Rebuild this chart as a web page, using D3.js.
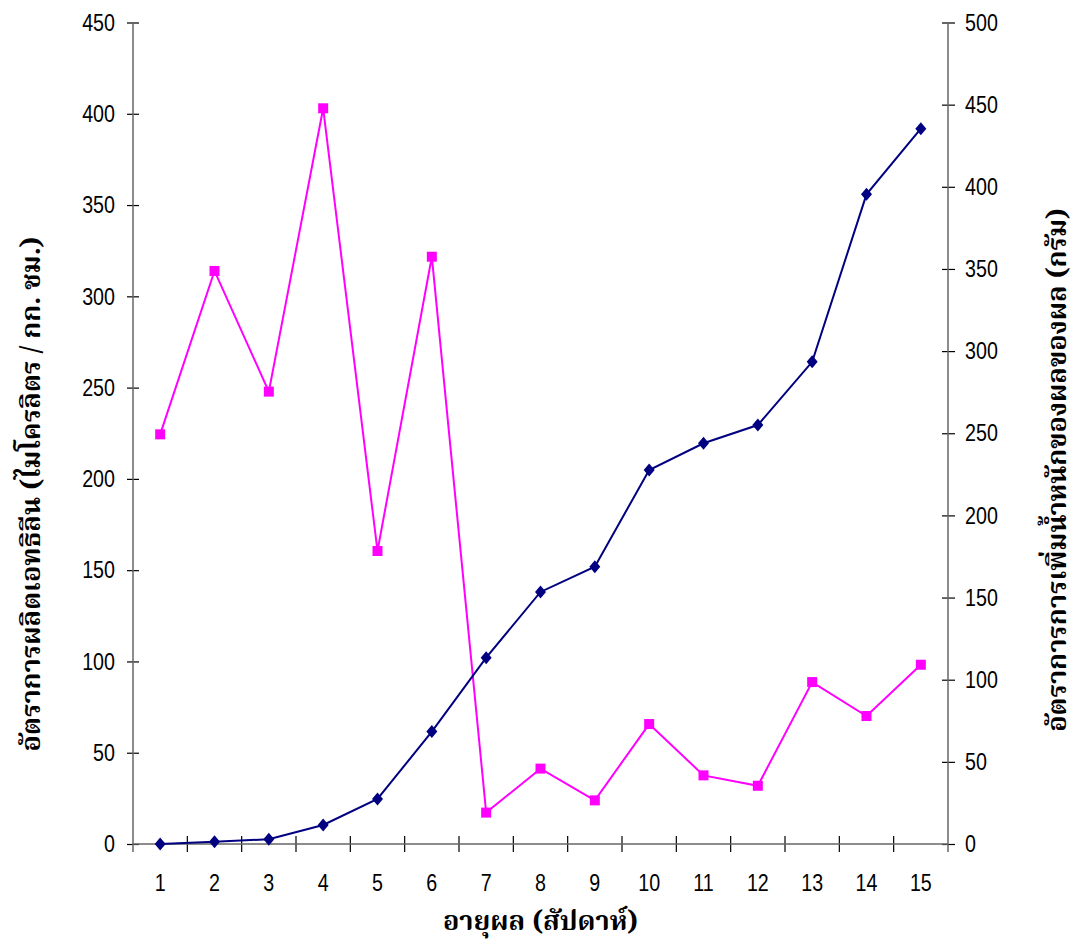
<!DOCTYPE html>
<html><head><meta charset="utf-8">
<script src="https://cdn.jsdelivr.net/npm/d3@7"></script>
<style>body{margin:0;background:#fff}svg{display:block}</style>
</head><body>
<svg id="c" width="1079" height="947"></svg>
<script>
const weeks = [1,2,3,4,5,6,7,8,9,10,11,12,13,14,15];
const ethylene = [224.4,313.9,247.8,403.0,160.5,321.7,17.2,41.3,23.9,65.7,37.6,31.9,88.7,70.1,98.2];
const weightGain = [0,1.4,2.9,11.6,27.4,68.4,113.4,153.4,168.8,227.6,243.9,255.0,293.5,395.4,435.4];
const leftTicks = [0,50,100,150,200,250,300,350,400,450];
const rightTicks = [0,50,100,150,200,250,300,350,400,450,500];
const xTitle = "อายุผล (สัปดาห์)";
const leftTitle = "อัตราการผลิตเอทธิลีน (ไมโครลิตร / กก. ชม.)";
const rightTitle = "อัตราการการเพิ่มน้ำหนักของผลของผล (กรัม)";

const svg = d3.select("#c");
const L = 133, R = 948, T = 22.5, B = 844;
const x = d3.scaleBand().domain(weeks).range([L, R]);
const yL = d3.scaleLinear().domain([0,450]).range([B, T]);
const yR = d3.scaleLinear().domain([0,500]).range([B, T]);
const numFont = "'Liberation Sans Narrow','Arial Narrow','Liberation Sans',Arial,sans-serif";
const thaiFont = "'Angsana New','Kinnari','Norasi','Noto Serif Thai','Noto Sans Thai Looped','Loma','Noto Sans Thai',serif";
const SX = 0.82;

const axisColor = "#666";
function styleAxis(g){
  g.select(".domain").remove();
  g.selectAll(".tick line").attr("stroke","#000").attr("stroke-width",1.2);
  g.selectAll(".tick text").attr("font-family",numFont).attr("font-size",24).attr("fill","#000")
    .each(function(){
      const t = d3.select(this);
      const xv = +t.attr("x") || 0;
      t.attr("x", xv/SX).attr("transform",`scale(${SX},1)`);
    });
}
const gL = svg.append("g").attr("transform",`translate(${L},0)`)
  .call(d3.axisLeft(yL).tickValues(leftTicks).tickSize(6).tickPadding(12).tickSizeOuter(0));
gL.selectAll(".tick line").attr("x2",6).attr("x1",-6);
styleAxis(gL);
const gR = svg.append("g").attr("transform",`translate(${R},0)`)
  .call(d3.axisRight(yR).tickValues(rightTicks).tickSize(6).tickPadding(11));
gR.selectAll(".tick line").attr("x1",-6).attr("x2",7);
styleAxis(gR);
const gX = svg.append("g").attr("transform",`translate(0,${B})`)
  .call(d3.axisBottom(x).tickSize(0).tickPadding(30));
styleAxis(gX);
gX.selectAll(".bt").data(weeks.slice(1)).enter().append("line")
  .attr("x1",d=>x(d)).attr("x2",d=>x(d)).attr("y1",-8).attr("y2",8)
  .attr("stroke","#000").attr("stroke-width",1.2);

svg.append("line").attr("x1",L).attr("x2",L).attr("y1",T).attr("y2",B+8).attr("stroke",axisColor).attr("stroke-width",1.5);
svg.append("line").attr("x1",R).attr("x2",R).attr("y1",T).attr("y2",B+8).attr("stroke",axisColor).attr("stroke-width",1.5);
svg.append("line").attr("x1",L).attr("x2",R).attr("y1",B).attr("y2",B).attr("stroke",axisColor).attr("stroke-width",1.5);

const cx = d => x(d) + x.bandwidth()/2;

svg.append("path").datum(weeks.map((w,i)=>[cx(w), yL(ethylene[i])]))
  .attr("d", d3.line()).attr("fill","none").attr("stroke","#ff00ff").attr("stroke-width",2);
svg.selectAll(".sq").data(weeks).enter().append("rect")
  .attr("x",(w)=>cx(w)-5).attr("y",(w,i)=>yL(ethylene[i])-5).attr("width",10).attr("height",10)
  .attr("fill","#ff00ff");

svg.append("path").datum(weeks.map((w,i)=>[cx(w), yR(weightGain[i])]))
  .attr("d", d3.line()).attr("fill","none").attr("stroke","#000080").attr("stroke-width",2);
svg.selectAll(".dm").data(weeks).enter().append("path")
  .attr("transform",(w,i)=>`translate(${cx(w)},${yR(weightGain[i])})`)
  .attr("d","M0,-6.5L5.5,0L0,6.5L-5.5,0Z").attr("fill","#000080");

svg.append("text").attr("x",(L+R)/2).attr("y",930).attr("text-anchor","middle")
  .attr("font-family",thaiFont).attr("font-weight","bold").attr("font-size",27).text(xTitle);
svg.append("text").attr("transform","translate(40,494) rotate(-90)").attr("text-anchor","middle")
  .attr("font-family",thaiFont).attr("font-weight","bold").attr("font-size",27).text(leftTitle);
svg.append("text").attr("transform","translate(1066,470) rotate(-90)").attr("text-anchor","middle")
  .attr("font-family",thaiFont).attr("font-weight","bold").attr("font-size",27).text(rightTitle);
</script>
</body></html>
